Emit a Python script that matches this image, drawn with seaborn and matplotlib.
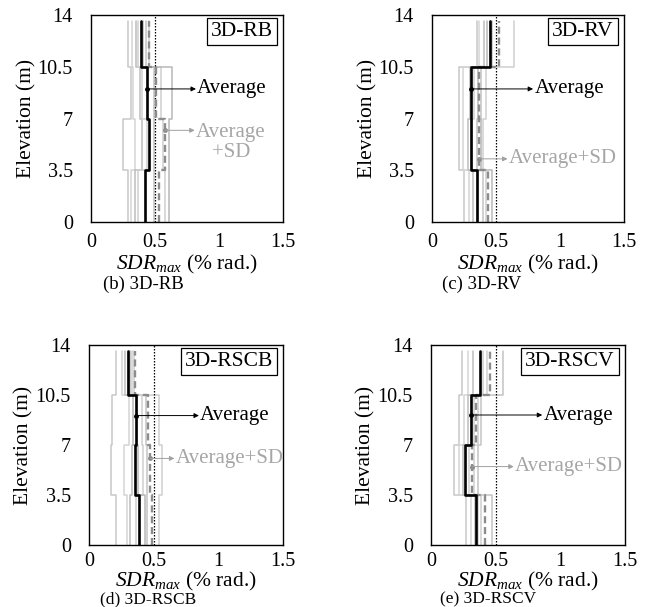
import matplotlib
matplotlib.use("Agg")
import matplotlib.pyplot as plt
import seaborn as sns
import pandas as pd

# ---------------- data ----------------
story_bounds = [0, 3.5, 7, 10.5, 13.6]
y_ticks = [0, 3.5, 7, 10.5, 14]
y_ticklabels = ["0", "3.5", "7", "10.5", "14"]
x_ticks = [0, 0.5, 1, 1.5]
x_ticklabels = ["0", "0.5", "1", "1.5"]
limit_value = 0.5

panel_names = ["3D-RB", "3D-RV", "3D-RSCB", "3D-RSCV"]
captions = ["(b) 3D-RB", "(c) 3D-RV", "(d) 3D-RSCB", "(e) 3D-RSCV"]

# individual records: SDRmax per story (story1..story4)
records_rb = [
    [0.29, 0.25, 0.31, 0.29],
    [0.31, 0.34, 0.33, 0.32],
    [0.34, 0.40, 0.38, 0.355],
    [0.37, 0.44, 0.40, 0.37],
    [0.49, 0.49, 0.49, 0.43],
    [0.58, 0.56, 0.55, 0.45],
    [0.61, 0.61, 0.63, 0.41],
]
records_rv = [
    [0.25, 0.21, 0.21, 0.35],
    [0.29, 0.24, 0.24, 0.37],
    [0.32, 0.28, 0.30, 0.41],
    [0.35, 0.31, 0.33, 0.45],
    [0.40, 0.35, 0.385, 0.47],
    [0.425, 0.40, 0.425, 0.64],
    [0.465, 0.38, 0.36, 0.43],
]
records_rscb = [
    [0.205, 0.167, 0.18, 0.205],
    [0.295, 0.27, 0.31, 0.256],
    [0.32, 0.33, 0.37, 0.28],
    [0.36, 0.42, 0.41, 0.333],
    [0.45, 0.45, 0.44, 0.30],
    [0.54, 0.564, 0.54, 0.35],
    [0.43, 0.38, 0.34, 0.32],
]
records_rscv = [
    [0.27, 0.176, 0.216, 0.243],
    [0.31, 0.216, 0.257, 0.284],
    [0.338, 0.25, 0.284, 0.324],
    [0.39, 0.297, 0.33, 0.43],
    [0.47, 0.365, 0.39, 0.554],
    [0.36, 0.33, 0.36, 0.40],
]

avg_rb = [0.42, 0.45, 0.435, 0.39]
avg_rv = [0.35, 0.305, 0.305, 0.45]
avg_rscb = [0.39, 0.354, 0.36, 0.30]
avg_rscv = [0.35, 0.262, 0.31, 0.378]

avgsd_rb = [0.53, 0.58, 0.51, 0.455]
avgsd_rv = [0.44, 0.37, 0.37, 0.52]
avgsd_rscb = [0.49, 0.474, 0.46, 0.354]
avgsd_rscv = [0.42, 0.32, 0.35, 0.454]

all_records = [records_rb, records_rv, records_rscb, records_rscv]
all_avg = [avg_rb, avg_rv, avg_rscb, avg_rscv]
all_avgsd = [avgsd_rb, avgsd_rv, avgsd_rscb, avgsd_rscv]

# annotation anchors: (elevation of arrow, story index, text x)
avg_ann = [(9.0, 2, 0.83), (9.0, 2, 0.80), (9.06, 2, 0.86), (9.1, 2, 0.87)]
sd_ann = [(6.2, 1, 0.82), (4.27, 1, 0.60), (6.06, 1, 0.67), (5.49, 1, 0.65)]
sd_text = ["Average\n+SD", "Average+SD", "Average+SD", "Average+SD"]

# ---------------- style ----------------
sns.set_theme(style="white")
plt.rcParams["font.family"] = ["Liberation Serif", "DejaVu Serif"]
plt.rcParams["mathtext.fontset"] = "custom"
plt.rcParams["mathtext.rm"] = "Liberation Serif"
plt.rcParams["mathtext.it"] = "Liberation Serif:italic"

rec_colors = ["#c8c8c8", "#d4d4d4", "#bdbdbd", "#cfcfcf", "#c4c4c4", "#d0d0d0", "#b8b8b8"]


def step_frame(values, label):
    xs, ys = [], []
    for i, v in enumerate(values):
        xs += [v, v]
        ys += [story_bounds[i], story_bounds[i + 1]]
    return pd.DataFrame({"x": xs, "y": ys, "order": range(len(xs)), "rec": label})


fig = plt.figure(figsize=(6.49, 6.07), dpi=100)
W, H = 649, 607
positions = [(91, 15, 283, 222), (432, 15, 624, 222), (89, 345, 283, 545), (431, 345, 625, 545)]
xtick_pad = [8, 8, 5, 5]
xlabel_pos = [(187, 264), (528, 264), (186, 581), (528, 581)]
caption_pos = [(143, 284), (482, 284), (148, 599), (488, 599)]
caption_size = [13.5, 13.5, 12.5, 12.5]

for p in range(4):
    l, t, r, b = positions[p]
    ax = fig.add_axes([l / W, (H - b) / H, (r - l) / W, (b - t) / H])

    for k, rec in enumerate(all_records[p]):
        df = step_frame(rec, k)
        sns.lineplot(data=df, x="x", y="y", sort=False, estimator=None,
                     color=rec_colors[k % len(rec_colors)], lw=1.1, ax=ax)
    ax.axvline(limit_value, color="black", lw=0.9, ls=(0, (1.2, 1.2)))
    sns.lineplot(data=step_frame(all_avgsd[p], "sd"), x="x", y="y", sort=False,
                 estimator=None, color="#8c8c8c", lw=1.7, ls=(0, (3, 1.6)), ax=ax)
    sns.lineplot(data=step_frame(all_avg[p], "avg"), x="x", y="y", sort=False,
                 estimator=None, color="black", lw=1.9, ax=ax)

    ax.set_xlim(0, 1.5)
    ax.set_ylim(0, 14)
    ax.set_xticks(x_ticks)
    ax.set_xticklabels(x_ticklabels)
    ax.set_yticks(y_ticks)
    ax.set_yticklabels(y_ticklabels)
    ax.tick_params(axis="both", length=0, labelsize=14.5, colors="black")
    ax.tick_params(axis="y", pad=13)
    ax.tick_params(axis="x", pad=xtick_pad[p])
    for s in ax.spines.values():
        s.set_visible(True)
        s.set_color("black")
        s.set_linewidth(1.0)

    ax.set_xlabel("")
    ax.set_ylabel("Elevation (m)", fontsize=15.5, color="black")
    ax.yaxis.set_label_coords(-0.285, 0.5)

    # label box
    ax.text(1.42, 12.87, panel_names[p], ha="right", va="center", fontsize=15.5,
            color="black",
            bbox=dict(boxstyle="square,pad=0.18", fc="white", ec="black", lw=0.9))

    # Average annotation
    yy, si, tx = avg_ann[p]
    x0 = all_avg[p][si]
    ax.annotate("", xy=(tx - 0.01, yy), xytext=(x0, yy),
                arrowprops=dict(arrowstyle="-|>", color="black", lw=0.7,
                                shrinkA=0, shrinkB=0, mutation_scale=7))
    ax.plot([x0], [yy], marker="o", ms=2.5, color="black")
    ax.text(tx, yy, "Average", ha="left", va="center", fontsize=15, color="black")

    # Average+SD annotation
    yy, si, tx = sd_ann[p]
    x0 = all_avgsd[p][si]
    ax.annotate("", xy=(tx - 0.01, yy), xytext=(x0, yy),
                arrowprops=dict(arrowstyle="-|>", color="#a0a0a0", lw=0.7,
                                shrinkA=0, shrinkB=0, mutation_scale=7))
    ax.plot([x0], [yy], marker="o", ms=2.5, color="#8c8c8c")
    if "\n" in sd_text[p]:
        ax.text(tx, yy + 0.5, sd_text[p], ha="left", va="top", fontsize=15,
                color="#a6a6a6", multialignment="center", linespacing=1.05)
    else:
        ax.text(tx, yy, sd_text[p], ha="left", va="center", fontsize=15, color="#a6a6a6")

    xx, xy_ = xlabel_pos[p]
    fig.text(xx / W, 1 - xy_ / H, r"$SDR_{max}$ (% rad.)", ha="center", va="center",
             fontsize=15.5, color="black")
    cx, cy = caption_pos[p]
    fig.text(cx / W, 1 - cy / H, captions[p], ha="center", va="center",
             fontsize=caption_size[p], color="black")

fig.savefig("out.png", dpi=100)
